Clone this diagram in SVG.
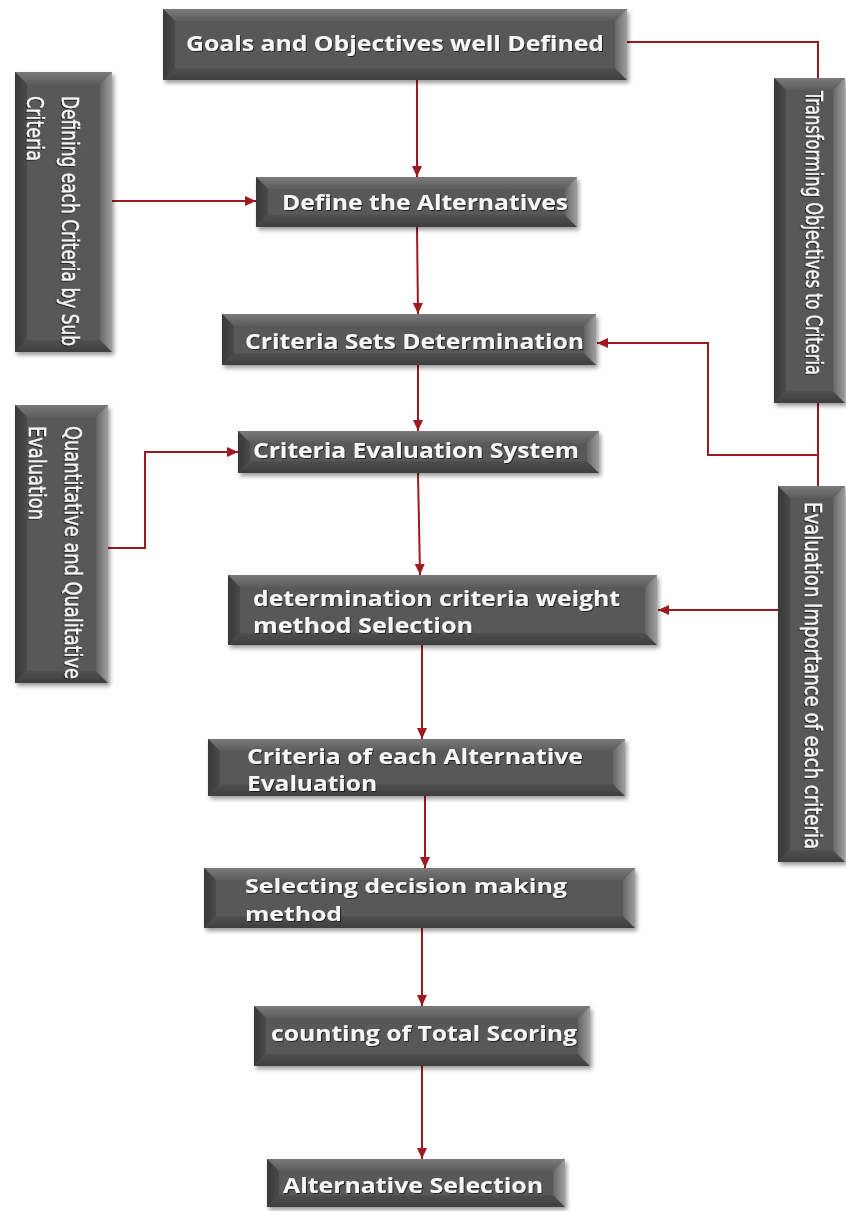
<svg xmlns="http://www.w3.org/2000/svg" width="846" height="1211" viewBox="0 0 846 1211">
  <defs>
    <style>
      .face { fill: #585858; }
      .bt { fill: url(#gTop); }
      .bb { fill: url(#gBottom); }
      .bl { fill: url(#gLeft); }
      .br { fill: url(#gRight); }
      .box { filter: url(#shadow); }
      .lbl { fill: #f6f6f6; font-family: "Open Sans", "DejaVu Sans", sans-serif; font-weight: 700; font-size: 21px; filter: url(#txtShadow); }
      .lbl2 { font-size: 20px; }
      .vlbl { fill: #f6f6f6; stroke: #f6f6f6; stroke-width: 0.35; font-family: "Liberation Sans Narrow", "DejaVu Sans Condensed", "Liberation Sans", sans-serif; font-size: 23px; filter: url(#txtShadow); }
      .wire { fill: none; stroke: #9e1a20; stroke-width: 2; }
      .arrow { marker-end: url(#head); }
    </style>
    <linearGradient id="gTop" x1="0" y1="0" x2="0" y2="1">
      <stop offset="0" stop-color="#7a7a7a"/>
      <stop offset="1" stop-color="#5c5c5c"/>
    </linearGradient>
    <linearGradient id="gBottom" x1="0" y1="0" x2="0" y2="1">
      <stop offset="0" stop-color="#505050"/>
      <stop offset="1" stop-color="#3e3e3e"/>
    </linearGradient>
    <linearGradient id="gLeft" x1="0" y1="0" x2="1" y2="0">
      <stop offset="0" stop-color="#383838"/>
      <stop offset="1" stop-color="#4a4a4a"/>
    </linearGradient>
    <linearGradient id="gRight" x1="0" y1="0" x2="1" y2="0">
      <stop offset="0" stop-color="#666666"/>
      <stop offset="1" stop-color="#9e9e9e"/>
    </linearGradient>
    <filter id="shadow" x="-10%" y="-10%" width="120%" height="130%">
      <feDropShadow dx="2" dy="3" stdDeviation="2.2" flood-color="#000" flood-opacity="0.4"/>
    </filter>
    <filter id="txtShadow" x="-5%" y="-20%" width="110%" height="140%">
      <feDropShadow dx="1" dy="1" stdDeviation="0.7" flood-color="#000" flood-opacity="0.6"/>
    </filter>
    <marker id="head" markerUnits="userSpaceOnUse" markerWidth="12" markerHeight="10" refX="11" refY="5" orient="auto">
      <path d="M0,0 L11,5 L0,10 Z" fill="#9e1a20"/>
    </marker>
  </defs>

  <rect width="846" height="1211" fill="#ffffff"/>

  <!-- connectors -->
  <g id="connectors">
    <path class="wire arrow" d="M417,80 V177"/>
    <path class="wire arrow" d="M112,201 H256"/>
    <path class="wire arrow" d="M417,227 L418,314"/>
    <path class="wire" d="M627,42 H818 V78"/>
    <path class="wire" d="M818,403 V486"/>
    <path class="wire arrow" d="M818,455 H708 V343 H597"/>
    <path class="wire arrow" d="M418,365 V431"/>
    <path class="wire arrow" d="M108,548 H145 V452 H238"/>
    <path class="wire arrow" d="M418,473 L420,575"/>
    <path class="wire arrow" d="M778,610 H658"/>
    <path class="wire arrow" d="M422,645 V739"/>
    <path class="wire arrow" d="M425,796 V868"/>
    <path class="wire arrow" d="M422,928 V1006"/>
    <path class="wire arrow" d="M422,1066 V1159"/>
  </g>

  <!-- main flow -->
  <g id="goals" class="box">
    <rect class="face" x="163" y="9" width="464" height="71"/>
    <polygon class="bt" points="163,9 627,9 615,21 175,21"/>
    <polygon class="bb" points="163,80 627,80 615,68 175,68"/>
    <polygon class="bl" points="163,9 175,21 175,68 163,80"/>
    <polygon class="br" points="627,9 615,21 615,68 627,80"/>
    <text class="lbl" x="186" y="51" textLength="418" lengthAdjust="spacingAndGlyphs">Goals and Objectives well Defined</text>
  </g>

  <g id="alternatives" class="box">
    <rect class="face" x="256" y="177" width="321" height="50"/>
    <polygon class="bt" points="256,177 577,177 565,189 268,189"/>
    <polygon class="bb" points="256,227 577,227 565,215 268,215"/>
    <polygon class="bl" points="256,177 268,189 268,215 256,227"/>
    <polygon class="br" points="577,177 565,189 565,215 577,227"/>
    <text class="lbl" x="282" y="210" textLength="286" lengthAdjust="spacingAndGlyphs">Define the Alternatives</text>
  </g>

  <g id="criteria-sets" class="box">
    <rect class="face" x="222" y="314" width="374" height="51"/>
    <polygon class="bt" points="222,314 596,314 584,326 234,326"/>
    <polygon class="bb" points="222,365 596,365 584,353 234,353"/>
    <polygon class="bl" points="222,314 234,326 234,353 222,365"/>
    <polygon class="br" points="596,314 584,326 584,353 596,365"/>
    <text class="lbl" x="245" y="349" textLength="339" lengthAdjust="spacingAndGlyphs">Criteria Sets Determination</text>
  </g>

  <g id="evaluation-system" class="box">
    <rect class="face" x="238" y="431" width="361" height="42"/>
    <polygon class="bt" points="238,431 599,431 587,443 250,443"/>
    <polygon class="bb" points="238,473 599,473 587,461 250,461"/>
    <polygon class="bl" points="238,431 250,443 250,461 238,473"/>
    <polygon class="br" points="599,431 587,443 587,461 599,473"/>
    <text class="lbl" x="253" y="458" textLength="326" lengthAdjust="spacingAndGlyphs">Criteria Evaluation System</text>
  </g>

  <g id="weight-method" class="box">
    <rect class="face" x="228" y="575" width="429" height="70"/>
    <polygon class="bt" points="228,575 657,575 645,587 240,587"/>
    <polygon class="bb" points="228,645 657,645 645,633 240,633"/>
    <polygon class="bl" points="228,575 240,587 240,633 228,645"/>
    <polygon class="br" points="657,575 645,587 645,633 657,645"/>
    <text class="lbl" x="253" y="606" textLength="367" lengthAdjust="spacingAndGlyphs">determination criteria weight</text>
    <text class="lbl" x="253" y="633" textLength="220" lengthAdjust="spacingAndGlyphs">method Selection</text>
  </g>

  <g id="alternative-evaluation" class="box">
    <rect class="face" x="208" y="739" width="417" height="57"/>
    <polygon class="bt" points="208,739 625,739 613,751 220,751"/>
    <polygon class="bb" points="208,796 625,796 613,784 220,784"/>
    <polygon class="bl" points="208,739 220,751 220,784 208,796"/>
    <polygon class="br" points="625,739 613,751 613,784 625,796"/>
    <text class="lbl" x="247" y="764" textLength="336" lengthAdjust="spacingAndGlyphs">Criteria of each Alternative</text>
    <text class="lbl" x="247" y="791" textLength="130" lengthAdjust="spacingAndGlyphs">Evaluation</text>
  </g>

  <g id="decision-method" class="box">
    <rect class="face" x="204" y="868" width="431" height="60"/>
    <polygon class="bt" points="204,868 635,868 623,880 216,880"/>
    <polygon class="bb" points="204,928 635,928 623,916 216,916"/>
    <polygon class="bl" points="204,868 216,880 216,916 204,928"/>
    <polygon class="br" points="635,868 623,880 623,916 635,928"/>
    <text class="lbl lbl2" x="245" y="893" textLength="322" lengthAdjust="spacingAndGlyphs">Selecting decision making</text>
    <text class="lbl lbl2" x="245" y="921" textLength="97" lengthAdjust="spacingAndGlyphs">method</text>
  </g>

  <g id="total-scoring" class="box">
    <rect class="face" x="254" y="1006" width="336" height="60"/>
    <polygon class="bt" points="254,1006 590,1006 578,1018 266,1018"/>
    <polygon class="bb" points="254,1066 590,1066 578,1054 266,1054"/>
    <polygon class="bl" points="254,1006 266,1018 266,1054 254,1066"/>
    <polygon class="br" points="590,1006 578,1018 578,1054 590,1066"/>
    <text class="lbl" x="271" y="1041" textLength="306" lengthAdjust="spacingAndGlyphs">counting of Total Scoring</text>
  </g>

  <g id="alternative-selection" class="box">
    <rect class="face" x="267" y="1159" width="298" height="48"/>
    <polygon class="bt" points="267,1159 565,1159 553,1171 279,1171"/>
    <polygon class="bb" points="267,1207 565,1207 553,1195 279,1195"/>
    <polygon class="bl" points="267,1159 279,1171 279,1195 267,1207"/>
    <polygon class="br" points="565,1159 553,1171 553,1195 565,1207"/>
    <text class="lbl" x="283" y="1193" textLength="260" lengthAdjust="spacingAndGlyphs">Alternative Selection</text>
  </g>

  <!-- side columns with vertical labels -->
  <g id="sub-criteria" class="box">
    <rect class="face" x="15" y="72" width="97" height="280"/>
    <polygon class="bt" points="15,72 112,72 100,84 27,84"/>
    <polygon class="bb" points="15,352 112,352 100,340 27,340"/>
    <polygon class="bl" points="15,72 27,84 27,340 15,352"/>
    <polygon class="br" points="112,72 100,84 100,340 112,352"/>
    <text class="vlbl" transform="translate(62,96) rotate(90)" textLength="250" lengthAdjust="spacingAndGlyphs">Defining each Criteria  by Sub</text>
    <text class="vlbl" transform="translate(27,96) rotate(90)" textLength="65" lengthAdjust="spacingAndGlyphs">Criteria</text>
  </g>

  <g id="objectives-to-criteria" class="box">
    <rect class="face" x="774" y="78" width="71" height="325"/>
    <polygon class="bt" points="774,78 845,78 833,90 786,90"/>
    <polygon class="bb" points="774,403 845,403 833,391 786,391"/>
    <polygon class="bl" points="774,78 786,90 786,391 774,403"/>
    <polygon class="br" points="845,78 833,90 833,391 845,403"/>
    <text class="vlbl" transform="translate(806,91) rotate(90)" textLength="284" lengthAdjust="spacingAndGlyphs">Transforming Objectives to Criteria</text>
  </g>

  <g id="quantitative-qualitative" class="box">
    <rect class="face" x="15" y="405" width="93" height="278"/>
    <polygon class="bt" points="15,405 108,405 96,417 27,417"/>
    <polygon class="bb" points="15,683 108,683 96,671 27,671"/>
    <polygon class="bl" points="15,405 27,417 27,671 15,683"/>
    <polygon class="br" points="108,405 96,417 96,671 108,683"/>
    <text class="vlbl" transform="translate(65,426) rotate(90)" textLength="253" lengthAdjust="spacingAndGlyphs">Quantitative and Qualitative</text>
    <text class="vlbl" transform="translate(29,426) rotate(90)" textLength="94" lengthAdjust="spacingAndGlyphs">Evaluation</text>
  </g>

  <g id="criteria-importance" class="box">
    <rect class="face" x="778" y="486" width="67" height="376"/>
    <polygon class="bt" points="778,486 845,486 833,498 790,498"/>
    <polygon class="bb" points="778,862 845,862 833,850 790,850"/>
    <polygon class="bl" points="778,486 790,498 790,850 778,862"/>
    <polygon class="br" points="845,486 833,498 833,850 845,862"/>
    <text class="vlbl" transform="translate(805,502) rotate(90)" textLength="347" lengthAdjust="spacingAndGlyphs">Evaluation Importance of each criteria</text>
  </g>
</svg>
